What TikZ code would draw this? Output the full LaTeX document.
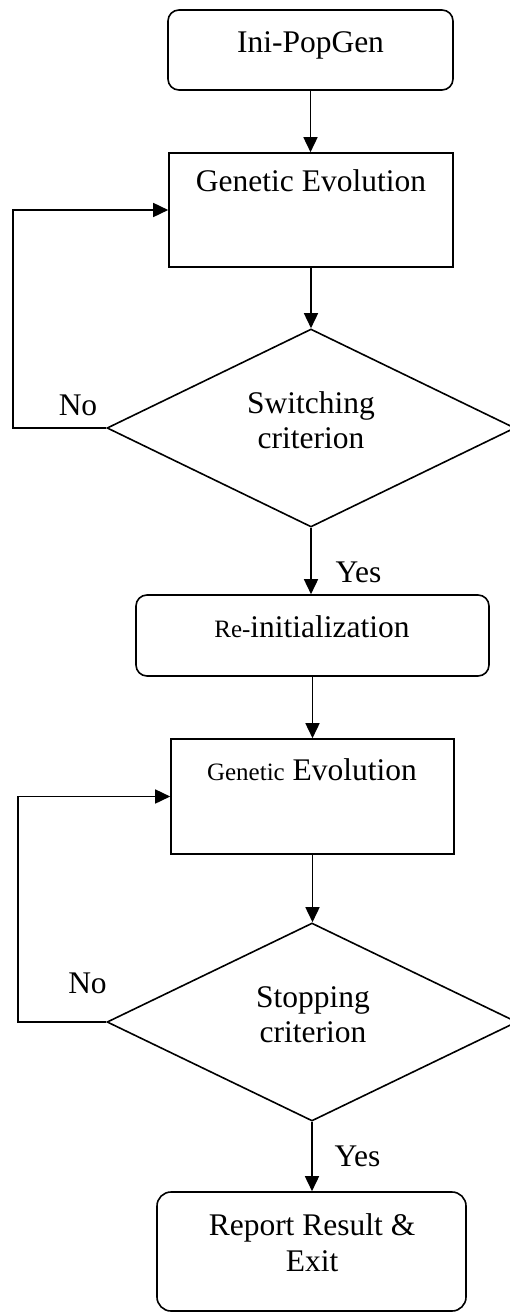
\documentclass[tikz,border=0pt]{standalone}
\usepackage{fontspec}
\setmainfont{Liberation Serif}
\usetikzlibrary{arrows.meta,shapes.geometric}
\tikzset{
  ln/.style={line width=1.6pt},
  arr/.style={ln,-{Triangle[length=15pt,width=14pt]}},
  boxr/.style={draw,ln,rectangle,inner sep=0pt},
  rbox/.style={boxr,rounded corners=11pt},
  dia/.style={draw,ln,diamond,inner sep=0pt},
  txt/.style={inner sep=0pt,anchor=base,font=\fontsize{31.5}{35}\selectfont},
}
\newcommand{\smalltxt}[1]{{\fontsize{25}{30}\selectfont #1}}
\begin{document}
\begin{tikzpicture}[x=1pt,y=-1pt]
\useasboundingbox (0,0) rectangle (509,1313);
% shapes
\node[rbox,minimum width=285pt,minimum height=80pt] (ini) at (310.5,50) {};
\node[boxr,minimum width=284pt,minimum height=114pt] (ge1) at (311,210) {};
\node[dia,minimum width=408pt,minimum height=198pt] (d1) at (311,428) {};
\node[rbox,minimum width=353pt,minimum height=81pt] (re) at (312.5,635.5) {};
\node[boxr,minimum width=283pt,minimum height=115pt] (ge2) at (312.5,796.5) {};
\node[dia,minimum width=410pt,minimum height=198pt] (d2) at (312,1022) {};
\node[rbox,rounded corners=14pt,minimum width=309pt,minimum height=119pt] (rep) at (311.5,1251.5) {};
% texts
\node[txt] (ini-t) at (310.5,53) {Ini-PopGen};
\node[txt] (ge1-t) at (311,192) {Genetic Evolution};
\node[txt] (d1-t1) at (311,413) {Switching};
\node[txt] (d1-t2) at (311,448) {criterion};
\node[txt] (no1) at (78,415) {No};
\node[txt] (yes1) at (358.5,582) {Yes};
\node[txt] (re-t) at (312,637) {\smalltxt{Re-}initialization};
\node[txt] (ge2-t) at (312,780) {\smalltxt{Genetic} Evolution};
\node[txt] (no2) at (87.5,993) {No};
\node[txt] (d2-t1) at (313,1007) {Stopping};
\node[txt] (d2-t2) at (313,1042) {criterion};
\node[txt] (yes2) at (357.5,1166) {Yes};
\node[txt] (rep-t1) at (312,1235) {Report Result \&};
\node[txt] (rep-t2) at (312,1271) {Exit};
% connectors
\draw[arr] (ini.south) -- (ini.south |- ge1.north);
\draw[arr] (ge1.south) -- (ge1.south |- d1.north);
\draw[arr] (d1.south) -- (d1.south |- re.north);
\draw[arr] (re.south) -- (re.south |- ge2.north);
\draw[arr] (ge2.south) -- (ge2.south |- d2.north);
\draw[arr] (d2.south) -- (d2.south |- rep.north);
\coordinate (k1) at (12.7,428);
\coordinate (k2) at (17.7,1022);
\draw[arr] (d1.west) -- (k1) |- (ge1.west);
\draw[arr] (d2.west) -- (k2) |- (ge2.west);
\end{tikzpicture}
\end{document}
